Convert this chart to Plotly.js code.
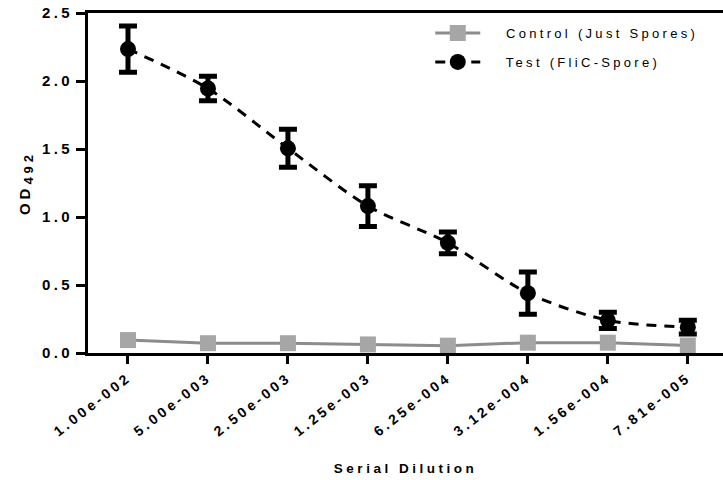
<!DOCTYPE html>
<html>
<head>
<meta charset="utf-8">
<script src="https://cdn.plot.ly/plotly-3.0.1.min.js"></script>
<style>
  html, body { margin: 0; padding: 0; background: #fff; }
  #chart { width: 723px; height: 480px; }
  text { letter-spacing: 3.4px; }
  text.legendtext { letter-spacing: 3.3px; }
  text.xtitle { letter-spacing: 3.5px; }
  text.ytitle { letter-spacing: 4px; }
</style>
</head>
<body>
<div id="chart"></div>
<script>
const categories = ["1.00e-002", "5.00e-003", "2.50e-003", "1.25e-003", "6.25e-004", "3.12e-004", "1.56e-004", "7.81e-005"];
const seriesNames = ["Control (Just Spores)", "Test (FliC-Spore)"];
const controlValues = [0.095, 0.072, 0.072, 0.063, 0.054, 0.076, 0.076, 0.055];
const testValues = [2.235, 1.945, 1.505, 1.08, 0.81, 0.44, 0.24, 0.19];
const testErrors = [0.17, 0.09, 0.14, 0.15, 0.08, 0.155, 0.06, 0.05];
const yTickValues = [0, 0.5, 1.0, 1.5, 2.0, 2.5];
const yTickLabels = ["0.0", "0.5", "1.0", "1.5", "2.0", "2.5"];

const idx = categories.map((c, i) => i);
const pad = "   ";

const traces = [
  {
    x: idx, y: controlValues, name: pad + seriesNames[0], type: "scatter", mode: "lines+markers",
    legendgroup: "a",
    line: { color: "#8c8c8c", width: 3 },
    marker: { symbol: "square", size: 16, color: "#a6a6a6" }
  },
  {
    x: idx, y: testValues, name: pad + seriesNames[1], type: "scatter", mode: "lines+markers",
    legendgroup: "b",
    line: { color: "#000", width: 3, dash: "10px,8px", shape: "spline", smoothing: 0.8 },
    marker: { symbol: "circle", size: 16, color: "#000" },
    error_y: { type: "data", array: testErrors, visible: true, color: "#000", thickness: 5, width: 9 }
  }
];

const layout = {
  width: 723, height: 480,
  margin: { l: 88, r: 0, t: 13, b: 127 },
  paper_bgcolor: "#fff", plot_bgcolor: "#fff",
  font: { family: "Liberation Sans, Arial, sans-serif", color: "#000" },
  showlegend: true,
  legend: {
    x: 0.539, xanchor: "left", y: 0.985, yanchor: "top",
    bgcolor: "rgba(0,0,0,0)",
    font: { size: 13, color: "#000" },
    tracegroupgap: 9,
    itemwidth: 45,
    traceorder: "grouped"
  },
  xaxis: {
    range: [-0.5, 7.44],
    tickmode: "array", tickvals: idx, ticktext: categories,
    tickangle: -38,
    tickfont: { size: 14, weight: "bold" },
    ticks: "outside", ticklen: 8, tickwidth: 3, tickcolor: "#000",
    showline: true, linewidth: 3, linecolor: "#000", mirror: true,
    showgrid: false, zeroline: false,
    title: { text: "Serial Dilution", font: { size: 13.5, weight: "bold" }, standoff: 26 }
  },
  yaxis: {
    range: [0, 2.5],
    tickmode: "array", tickvals: yTickValues, ticktext: yTickLabels,
    tickfont: { size: 15, weight: "bold" },
    ticks: "outside", ticklen: 9, tickwidth: 3, tickcolor: "#000",
    showline: true, linewidth: 3, linecolor: "#000",
    showgrid: false, zeroline: false,
    title: { text: "OD<sub><span style=\"font-size:13px\">492</span></sub>  ", font: { size: 15, weight: "bold" }, standoff: 8 }
  }
};

Plotly.newPlot("chart", traces, layout, { displayModeBar: false, staticPlot: true });
</script>
</body>
</html>
